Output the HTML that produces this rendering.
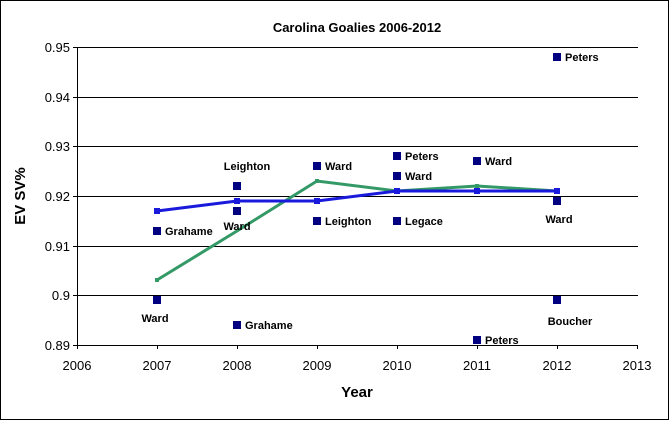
<!DOCTYPE html>
<html><head><style>body{margin:0;background:#fff}svg{display:block}</style></head><body>
<svg width="670" height="421" xmlns="http://www.w3.org/2000/svg" font-family="Liberation Sans, Arial, sans-serif">
<rect x="0.5" y="0.5" width="668" height="419" fill="#fff" stroke="#000"/>
<text x="357" y="32" font-size="13" font-weight="bold" text-anchor="middle">Carolina Goalies 2006-2012</text>
<g stroke="#000" stroke-width="1">
<line x1="77" y1="47.5" x2="638" y2="47.5"/>
<line x1="77" y1="97.5" x2="638" y2="97.5"/>
<line x1="77" y1="146.5" x2="638" y2="146.5"/>
<line x1="77" y1="196.5" x2="638" y2="196.5"/>
<line x1="77" y1="246.5" x2="638" y2="246.5"/>
<line x1="77" y1="295.5" x2="638" y2="295.5"/>
<line x1="77" y1="345.5" x2="638" y2="345.5"/>
<line x1="77.5" y1="47" x2="77.5" y2="349"/>
<line x1="157.5" y1="345" x2="157.5" y2="349"/><line x1="237.5" y1="345" x2="237.5" y2="349"/>
<line x1="317.5" y1="345" x2="317.5" y2="349"/><line x1="397.5" y1="345" x2="397.5" y2="349"/>
<line x1="477.5" y1="345" x2="477.5" y2="349"/><line x1="557.5" y1="345" x2="557.5" y2="349"/>
<line x1="637.5" y1="345" x2="637.5" y2="349"/>
<line x1="73" y1="47.5" x2="77" y2="47.5"/><line x1="73" y1="97.5" x2="77" y2="97.5"/>
<line x1="73" y1="146.5" x2="77" y2="146.5"/><line x1="73" y1="196.5" x2="77" y2="196.5"/>
<line x1="73" y1="246.5" x2="77" y2="246.5"/><line x1="73" y1="295.5" x2="77" y2="295.5"/>
<line x1="73" y1="345.5" x2="77" y2="345.5"/>
</g>
<g font-size="13" fill="#000" text-anchor="end">
<text x="70" y="52">0.95</text><text x="70" y="102">0.94</text><text x="70" y="151">0.93</text>
<text x="70" y="201">0.92</text><text x="70" y="251">0.91</text><text x="70" y="300">0.9</text><text x="70" y="350">0.89</text>
</g>
<g font-size="13" text-anchor="middle">
<text x="77" y="370">2006</text><text x="157" y="370">2007</text><text x="237" y="370">2008</text>
<text x="317" y="370">2009</text><text x="397" y="370">2010</text><text x="477" y="370">2011</text>
<text x="557" y="370">2012</text><text x="637" y="370">2013</text>
</g>
<text x="357" y="397" font-size="15" font-weight="bold" text-anchor="middle">Year</text>
<text transform="translate(25,196) rotate(-90)" font-size="15" font-weight="bold" text-anchor="middle">EV SV%</text>
<polyline fill="none" stroke="#339966" stroke-width="3" points="157,280 237,231 317,181 397,191 477,186 557,191"/>
<g fill="#339966"><rect x="155" y="278" width="4" height="4"/><rect x="315" y="179" width="4" height="4"/><rect x="395" y="189" width="4" height="4"/><rect x="475" y="184" width="4" height="4"/><rect x="555" y="189" width="4" height="4"/></g>
<polyline fill="none" stroke="#1a1adc" stroke-width="3" points="157,211 237,201 317,201 397,191 477,191 557,191"/>
<g fill="#1a1adc"><rect x="154" y="208" width="6" height="6"/><rect x="234" y="198" width="6" height="6"/><rect x="314" y="198" width="6" height="6"/><rect x="394" y="188" width="6" height="6"/><rect x="474" y="188" width="6" height="6"/><rect x="554" y="188" width="6" height="6"/></g>
<g fill="#000080">
<rect x="153" y="227" width="8" height="8"/><rect x="153" y="296" width="8" height="8"/>
<rect x="233" y="182" width="8" height="8"/><rect x="233" y="207" width="8" height="8"/><rect x="233" y="321" width="8" height="8"/>
<rect x="313" y="162" width="8" height="8"/><rect x="313" y="217" width="8" height="8"/>
<rect x="393" y="152" width="8" height="8"/><rect x="393" y="172" width="8" height="8"/><rect x="393" y="217" width="8" height="8"/>
<rect x="473" y="157" width="8" height="8"/><rect x="473" y="336" width="8" height="8"/>
<rect x="553" y="53" width="8" height="8"/><rect x="553" y="197" width="8" height="8"/><rect x="553" y="296" width="8" height="8"/>
</g>
<g font-size="11" font-weight="bold">
<text x="165" y="235">Grahame</text><text x="155" y="322" text-anchor="middle">Ward</text>
<text x="247" y="170" text-anchor="middle">Leighton</text><text x="237" y="230" text-anchor="middle">Ward</text><text x="245" y="329">Grahame</text>
<text x="325" y="170">Ward</text><text x="325" y="225">Leighton</text>
<text x="405" y="160">Peters</text><text x="405" y="180">Ward</text><text x="405" y="225">Legace</text>
<text x="485" y="165">Ward</text><text x="485" y="344">Peters</text>
<text x="565" y="61">Peters</text><text x="559" y="223" text-anchor="middle">Ward</text><text x="570" y="325" text-anchor="middle">Boucher</text>
</g>
</svg>
</body></html>
